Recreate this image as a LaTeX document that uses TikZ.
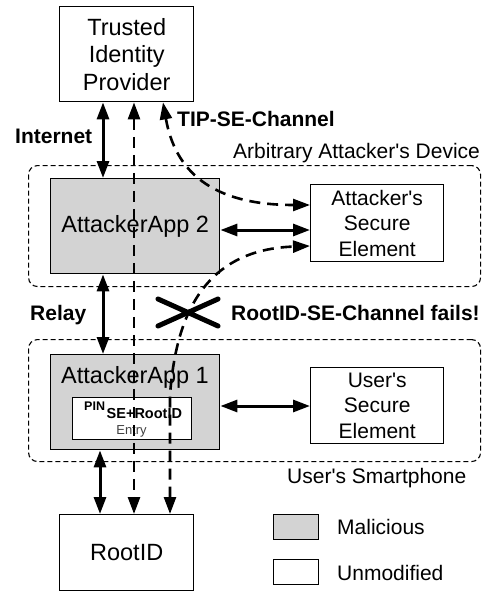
\documentclass[tikz,border=0pt]{standalone}
\usepackage{fontspec}
\setmainfont{Liberation Sans}
\usetikzlibrary{arrows.meta}
\definecolor{malgray}{RGB}{211,211,211}
\newcommand{\sq}{\textquotesingle}
\begin{document}
\begin{tikzpicture}[x=1pt,y=-1pt,
 box/.style={draw, line width=1.4pt, inner sep=0pt, anchor=north west, align=center},
 mal/.style={box, fill=malgray},
 big/.style={font=\fontsize{23.5}{27.5}\selectfont},
 med/.style={font=\fontsize{21}{25.5}\selectfont},
 lbl/.style={font=\fontsize{21}{25}\selectfont\bfseries, anchor=base west, inner sep=0pt},
 plain/.style={font=\fontsize{21}{25}\selectfont, anchor=base west, inner sep=0pt},
 sarr/.style={line width=3pt, {Triangle[length=17pt,width=12pt]}-{Triangle[length=17pt,width=12pt]}},
 darr/.style={line width=2.6pt, dash pattern=on 11pt off 7pt, {Triangle[length=17pt,width=12pt]}-{Triangle[length=17pt,width=12pt]}},
 zone/.style={draw, line width=1.1pt, dash pattern=on 5pt off 3pt, rounded corners=9pt, anchor=north west, inner sep=0pt}]
\useasboundingbox (0,0) rectangle (483,591);
% helper coordinates
\coordinate (xa) at (103,0);
\coordinate (xb) at (100,0);
\coordinate (xd) at (134,0);
\coordinate (xt) at (163,0);
\coordinate (xr) at (170,0);
\coordinate (ya) at (0,230);
\coordinate (yb) at (0,406);
\coordinate (yc) at (0,205);
\coordinate (ye) at (0,246);
% zones
\node[zone, minimum width=452pt, minimum height=121pt] (dev) at (28,165) {};
\node[zone, minimum width=452pt, minimum height=122pt] (phone) at (28,339) {};
% boxes
\node[box, big, minimum width=134pt, minimum height=95pt] (tip) at (59,6) {Trusted\\Identity\\Provider};
\node[mal, big, minimum width=169pt, minimum height=95pt] (aa2) at (50,178) {AttackerApp 2};
\node[box, med, minimum width=133pt, minimum height=77pt] (ase) at (310,184) {Attacker\sq s\\Secure\\Element};
\node[mal, minimum width=169pt, minimum height=95pt] (aa1) at (50,354) {};
\node[big, inner sep=0pt, anchor=base] (aa1t) at (135,383) {AttackerApp 1};
\node[box, fill=white, minimum width=119pt, minimum height=42pt] (pin) at (72,397) {};
\node[font=\fontsize{12.5}{13}\selectfont\bfseries, anchor=base west, inner sep=0pt] (pint) at (84,410.5) {PIN};
\node[font=\fontsize{14.5}{15}\selectfont\bfseries, anchor=base west, inner sep=0pt] (pins) at (106.5,418) {SE+RootID};
\node[font=\fontsize{13}{13}\selectfont, text=black!75, anchor=base, inner sep=0pt] (pine) at (131.5,434) {Entry};
\node[box, med, minimum width=133pt, minimum height=76pt] (use) at (310,367) {User\sq s\\Secure\\Element};
\node[box, big, minimum width=134pt, minimum height=76pt] (root) at (59,514) {RootID};
% legend
\node[mal, line width=1.2pt, minimum width=45pt, minimum height=25pt] (lm) at (273,514) {};
\node[box, line width=1.2pt, minimum width=45pt, minimum height=25pt] (lu) at (273,559) {};
\node[plain] (lmt) at (337,534) {Malicious};
\node[plain] (lut) at (337,580) {Unmodified};
% labels
\node[lbl] (inet) at (15,143) {Internet};
\node[lbl] (tipse) at (177,127) {TIP-SE-Channel};
\node[plain] (devl) at (233,158) {Arbitrary Attacker\sq s Device};
\node[lbl] (relay) at (30,320) {Relay};
\node[lbl] (fail) at (231,320) {RootID-SE-Channel fails!};
\node[plain] (phonel) at (287,483) {User\sq s Smartphone};
% dashed channels
\draw[darr] (tip.south -| xd) -- (root.north -| xd);
\draw[darr] (tip.south -| xt) .. controls (175,170) and (210,205) .. (ase.west |- yc);
\draw[darr] (root.north -| xr) -- (170,395) .. controls (175,330) and (195,250) .. (ase.west |- ye);
% solid arrows
\draw[sarr] (tip.south -| xa) -- (aa2.north -| xa);
\draw[sarr] (aa2.south -| xa) -- (aa1.north -| xa);
\draw[sarr] (aa1.south -| xb) -- (root.north -| xb);
\draw[sarr] (aa2.east |- ya) -- (ase.west |- ya);
\draw[sarr] (aa1.east |- yb) -- (use.west |- yb);
% failure cross
\draw[line width=5pt, line cap=round] (158,299) -- (218,326) (158,326) -- (218,299);
\end{tikzpicture}
\end{document}
